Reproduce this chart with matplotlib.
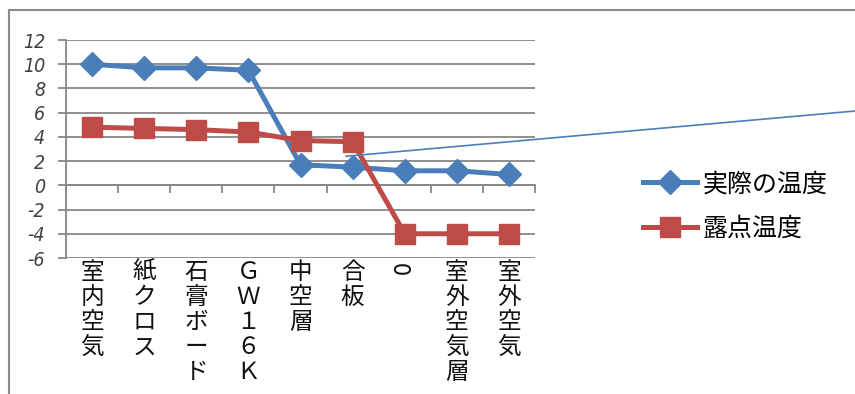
import matplotlib
matplotlib.use("Agg")
import matplotlib.pyplot as plt
from matplotlib.patches import Rectangle

plt.rcParams["font.family"] = ["Noto Sans CJK JP", "DejaVu Sans"]

CATEGORIES = ["室内空気", "紙クロス", "石膏ボード", "ＧＷ１６Ｋ", "中空層", "合板", "0", "室外空気層", "室外空気"]
ACTUAL_TEMP = [10.0, 9.7, 9.7, 9.5, 1.7, 1.5, 1.2, 1.2, 0.9]
DEW_POINT = [4.8, 4.7, 4.6, 4.4, 3.7, 3.6, -4.0, -4.0, -4.0]
SERIES_NAMES = ["実際の温度", "露点温度"]
Y_TICKS = list(range(-6, 13, 2))

BLUE = "#4A7EBB"
RED = "#BE4B48"
GRID = "#878787"


def main() -> None:
    fig = plt.figure(figsize=(8.55, 3.94), dpi=100)
    ax = fig.add_axes([66 / 855, 1 - 258 / 394, 469 / 855, 218 / 394])

    x = list(range(len(CATEGORIES)))
    ax.plot(x, ACTUAL_TEMP, color=BLUE, linewidth=3.6, marker="D", markersize=12,
            label=SERIES_NAMES[0], zorder=3)
    ax.plot(x, DEW_POINT, color=RED, linewidth=3.6, marker="s", markersize=14,
            label=SERIES_NAMES[1], zorder=3)

    ax.set_xlim(-0.5, len(CATEGORIES) - 0.5)
    ax.set_ylim(-6, 12)
    ax.set_yticks(Y_TICKS)
    ax.set_yticklabels([str(v) for v in Y_TICKS], family="DejaVu Sans", fontstretch="condensed",
                       style="italic", fontsize=14, color="#404040")
    ax.grid(True, axis="y", color=GRID, linewidth=1.3)
    ax.set_axisbelow(True)
    for side in ("top", "right", "bottom"):
        ax.spines[side].set_visible(False)
    ax.spines["left"].set_color(GRID)
    ax.spines["left"].set_linewidth(1.3)
    ax.tick_params(axis="y", length=6, width=1.3, color=GRID, pad=9)

    # category labels stacked vertically below the plot
    ax.set_xticks(x)
    ax.set_xticklabels(["\n".join(c) for c in CATEGORIES], fontsize=17, linespacing=1.12,
                       color="#111111")
    ax.tick_params(axis="x", length=0, pad=2)
    ax.get_xticklabels()[6].set_rotation(90)

    # category axis crossing at zero
    zero_axis = ax.secondary_xaxis(6 / 18)
    zero_axis.set_xticks([i - 0.5 for i in range(len(CATEGORIES) + 1)])
    zero_axis.set_xticklabels([])
    zero_axis.tick_params(direction="out", length=6, width=1.3, color=GRID)
    zero_axis.spines["bottom"].set_color(GRID)
    zero_axis.spines["bottom"].set_linewidth(1.3)

    # leader line running off to the right
    ax.annotate("", xy=(4.87, 2.4), xycoords="data", xytext=(1.0, 1 - 111 / 394),
                textcoords="figure fraction",
                arrowprops=dict(arrowstyle="-", color=BLUE, linewidth=1.2, shrinkA=0, shrinkB=0),
                annotation_clip=False)

    fig.legend(loc="center left", bbox_to_anchor=(643 / 855, 1 - 206.5 / 394), frameon=False,
               fontsize=18, handlelength=2.15, handletextpad=0.25, labelspacing=0.75,
               borderpad=0, borderaxespad=0)

    fig.patches.append(Rectangle((9 / 855, -0.1), 1.2, 1.1 - 10 / 394,
                                 transform=fig.transFigure, fill=False,
                                 edgecolor="#8a8a8a", linewidth=1.5))

    fig.savefig("out.png", dpi=100)
    plt.close(fig)


if __name__ == "__main__":
    main()
